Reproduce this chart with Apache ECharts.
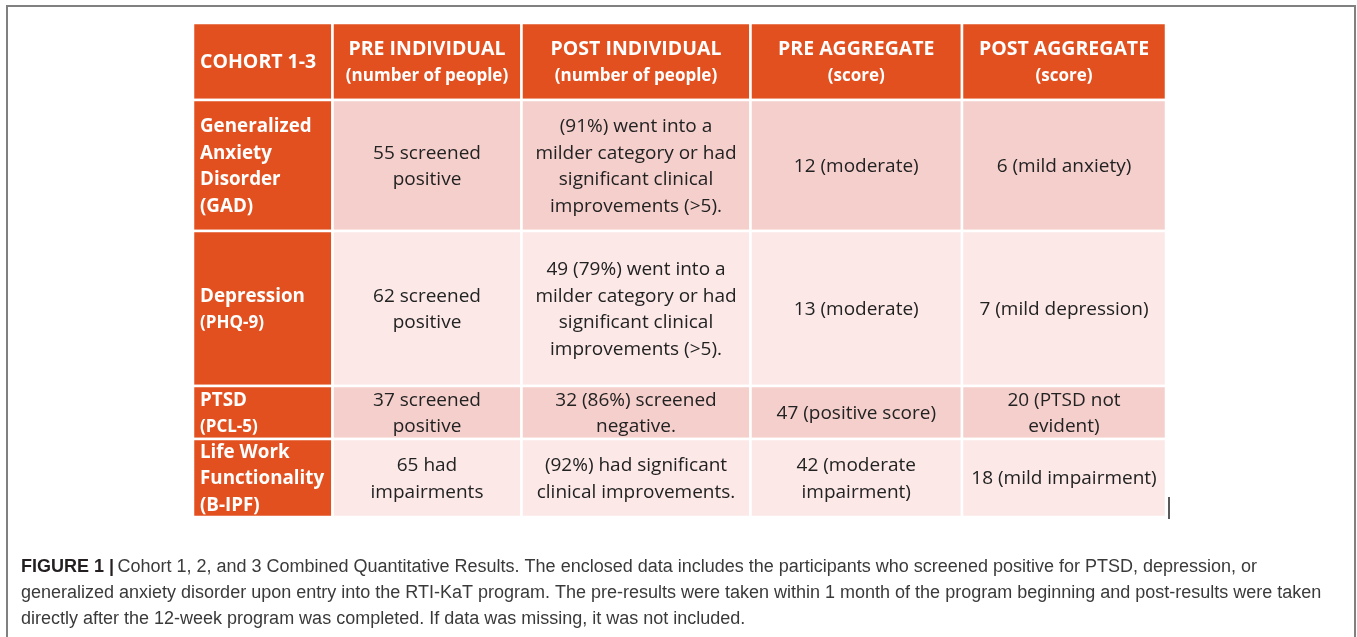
<!DOCTYPE html>
<html>
<head>
<meta charset="utf-8">
<title>Cohort 1-3 combined quantitative results</title>
<script src="https://cdn.jsdelivr.net/npm/echarts@6/dist/echarts.min.js"></script>
<style>
  html, body { margin: 0; padding: 0; background: #fff; }
  #chart { width: 1357px; height: 637px; }
</style>
</head>
<body>
<div id="chart"></div>
<script>
// table content
const columns = ['COHORT 1-3', 'PRE INDIVIDUAL', 'POST INDIVIDUAL', 'PRE AGGREGATE', 'POST AGGREGATE'];
const columnUnits = ['', '(number of people)', '(number of people)', '(score)', '(score)'];
const measures = ['Generalized\nAnxiety\nDisorder\n(GAD)', 'Depression', 'PTSD', 'Life Work\nFunctionality\n(B-IPF)'];
const measureCodes = ['', '(PHQ-9)', '(PCL-5)', ''];
const preIndividual = ['55 screened\npositive', '62 screened\npositive', '37 screened\npositive', '65 had\nimpairments'];
const postIndividual = [
  '(91%) went into a\nmilder category or had\nsignificant clinical\nimprovements (>5).',
  '49 (79%) went into a\nmilder category or had\nsignificant clinical\nimprovements (>5).',
  '32 (86%) screened\nnegative.',
  '(92%) had significant\nclinical improvements.'
];
const preAggregate = ['12 (moderate)', '13 (moderate)', '47 (positive score)', '42 (moderate\nimpairment)'];
const postAggregate = ['6 (mild anxiety)', '7 (mild depression)', '20 (PTSD not\nevident)', '18 (mild impairment)'];

const captionLines = [
  'Cohort 1, 2, and 3 Combined Quantitative Results. The enclosed data includes the participants who screened positive for PTSD, depression, or',
  'generalized anxiety disorder upon entry into the RTI-KaT program. The pre-results were taken within 1 month of the program beginning and post-results were taken',
  'directly after the 12-week program was completed. If data was missing, it was not included.'
];

// layout (table units = px)
const colWidths = [139.5, 189, 229, 211.5, 204];
const rowHeights = [77, 131, 155, 53, 78];
const colStart = colWidths.map((w, i) => colWidths.slice(0, i).reduce((a, b) => a + b, 0));
const rowStart = rowHeights.map((h, i) => rowHeights.slice(0, i).reduce((a, b) => a + b, 0));
const tableW = colWidths.reduce((a, b) => a + b, 0);
const tableH = rowHeights.reduce((a, b) => a + b, 0);

const ORANGE = '#e2501f';
const ROW_DARK = '#f5cfcc';
const ROW_LIGHT = '#fbe8e7';
const FONT = '"Open Sans", "Noto Sans", sans-serif';
const CAPTION_FONT = '"Liberation Sans", Arial, sans-serif';

const bodyCols = [preIndividual, postIndividual, preAggregate, postAggregate];

// one cell per [col, row]; row 0 is the header
const cells = [];
const cellText = [];
for (let r = 0; r <= measures.length; r++) {
  for (let c = 0; c < columns.length; c++) {
    cells.push([c, r]);
    if (r === 0) {
      cellText.push(columnUnits[c] ? '{h|' + columns[c] + '}\n{hs|' + columnUnits[c] + '}' : '{h|' + columns[c] + '}');
    } else if (c === 0) {
      const name = measures[r - 1].split('\n').map(s => '{m|' + s + '}').join('\n');
      cellText.push(measureCodes[r - 1] ? name + '\n{ms|' + measureCodes[r - 1] + '}' : name);
    } else {
      cellText.push(bodyCols[c - 1][r - 1].split('\n').map(s => '{b|' + s + '}').join('\n'));
    }
  }
}

const rich = {
  h: { fontFamily: FONT, fontWeight: 'bold', fontSize: 19.5, lineHeight: 27, fill: '#fff' },
  hs: { fontFamily: FONT, fontWeight: 'bold', fontSize: 17, lineHeight: 27, fill: '#fff' },
  m: { fontFamily: FONT, fontWeight: 'bold', fontSize: 18.8, lineHeight: 26.5, fill: '#fff' },
  ms: { fontFamily: FONT, fontWeight: 'bold', fontSize: 17, lineHeight: 26.5, fill: '#fff' },
  b: { fontFamily: FONT, fontSize: 19, lineHeight: 26.5, fill: '#222222' }
};

function renderCell(params, api) {
  const c = api.value(0);
  const r = api.value(1);
  const p0 = api.coord([colStart[c], rowStart[r]]);
  const p1 = api.coord([colStart[c] + colWidths[c], rowStart[r] + rowHeights[r]]);
  let fill = ORANGE;
  if (r > 0 && c > 0) fill = r % 2 === 1 ? ROW_DARK : ROW_LIGHT;
  const left = c === 0;
  return {
    type: 'group',
    children: [
      {
        type: 'rect',
        shape: { x: p0[0], y: p0[1], width: p1[0] - p0[0], height: p1[1] - p0[1] },
        style: { fill: fill, stroke: '#ffffff', lineWidth: 2.5 }
      },
      {
        type: 'text',
        x: left ? p0[0] + 7 : (p0[0] + p1[0]) / 2,
        y: (p0[1] + p1[1]) / 2 + 1,
        style: {
          text: cellText[params.dataIndex],
          rich: rich,
          align: left ? 'left' : 'center',
          verticalAlign: 'middle'
        }
      }
    ]
  };
}

const chart = echarts.init(document.getElementById('chart'), null, { renderer: 'canvas' });

chart.setOption({
  animation: false,
  grid: { left: 193, top: 23, width: tableW, height: tableH },
  xAxis: { type: 'value', min: 0, max: tableW, show: false },
  yAxis: { type: 'value', min: 0, max: tableH, inverse: true, show: false },
  series: [{
    type: 'custom',
    renderItem: renderCell,
    data: cells,
    silent: true
  }],
  graphic: [
    {
      type: 'rect',
      shape: { x: 7, y: 6, width: 1348, height: 700 },
      style: { fill: null, stroke: '#808080', lineWidth: 2 }
    },
    {
      type: 'line',
      shape: { x1: 1169, y1: 497, x2: 1169, y2: 519 },
      style: { stroke: '#222', lineWidth: 1.5 }
    },
    {
      type: 'text',
      left: 21,
      top: 558,
      style: {
        text: '{fb|FIGURE 1 |} {t|' + captionLines[0] + '}\n{t|' + captionLines[1] + '}\n{t|' + captionLines[2] + '}',
        rich: {
          fb: { fontFamily: CAPTION_FONT, fontWeight: 'bold', fontSize: 18, lineHeight: 26, fill: '#231f20' },
          t: { fontFamily: CAPTION_FONT, fontSize: 18, lineHeight: 26, fill: '#3a3a3a' }
        }
      }
    }
  ]
});
</script>
</body>
</html>
